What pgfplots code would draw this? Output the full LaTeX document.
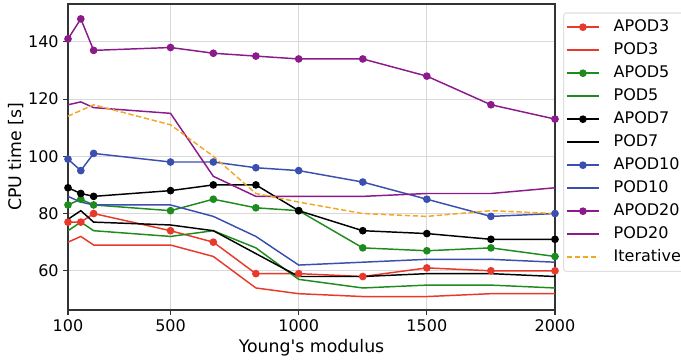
\documentclass[border=0pt]{standalone}
\usepackage{fontspec}
\setmainfont{DejaVu Sans}[Ligatures=TeXOff]
\usepackage{pgfplots}
\pgfplotsset{compat=1.18}

\definecolor{cRed}{HTML}{E8392B}
\definecolor{cGreen}{HTML}{1E8B1E}
\definecolor{cBlue}{HTML}{3A4FB0}
\definecolor{cPurple}{HTML}{8B1A8B}
\definecolor{cOrange}{HTML}{F5A623}

\begin{document}
\begin{tikzpicture}
\begin{axis}[
  scale only axis,
  width=365.25pt, height=229.5pt,
  xmin=100, xmax=2000,
  ymin=46.3, ymax=153.2,
  xtick={100,500,1000,1500,2000},
  ytick={60,80,100,120,140},
  xticklabel style={/pgf/number format/.cd,1000 sep={}},
  /pgf/number format/assume math mode=true,
  tick align=outside, tick pos=left,
  major tick length=3.5pt,
  grid=major,
  grid style={gray!30, line width=0.8pt},
  axis line style={black!80, line width=0.8pt},
  tick style={black!80, line width=0.8pt},
  tick label style={font=\fontsize{12}{14}\selectfont},
  label style={font=\fontsize{13}{15}\selectfont},
  xlabel={Young's modulus},
  ylabel={CPU time [s]},
  xlabel style={at={(axis description cs:0.5,-0.124)}, anchor=center},
  ylabel style={at={(axis description cs:-0.107,0.5)}, anchor=center},
  every axis plot/.append style={line width=1.1pt},
  legend style={
    at={(1,1)}, anchor=north west, xshift=6pt, yshift=-6.375pt,
    draw=gray!25, line width=0.8pt, rounded corners=2pt,
    font=\fontsize{12}{14}\selectfont,
    cells={anchor=west}, row sep=0pt, column sep=6pt,
    nodes={text height=11.5pt, text depth=5.75pt, inner ysep=0pt, inner xsep=4.5pt},
    inner xsep=2pt, inner ysep=2pt,
  },
  legend image code/.code={%
    \draw[line width=1.1pt, mark repeat=2,mark phase=2] plot coordinates {(0pt,0pt) (12pt,0pt) (24pt,0pt)};},
]
% APOD3 / POD3
\addplot[cRed, mark=*, mark size=2.3pt] coordinates {
 (100,77) (150,77) (200,80) (500,74) (667,70) (833,59) (1000,59) (1250,58) (1500,61) (1750,60) (2000,60)};
\addlegendentry{APOD3}
\addplot[cRed, no marks] coordinates {
 (100,70) (150,72) (200,69) (500,69) (667,65) (833,54) (1000,52) (1250,51) (1500,51) (1750,52) (2000,52)};
\addlegendentry{POD3}
% APOD5 / POD5
\addplot[cGreen, mark=*, mark size=2.3pt] coordinates {
 (100,83) (150,85) (200,83) (500,81) (667,85) (833,82) (1000,81) (1250,68) (1500,67) (1750,68) (2000,65)};
\addlegendentry{APOD5}
\addplot[cGreen, no marks] coordinates {
 (100,74) (150,77) (200,74) (500,72) (667,74) (833,68) (1000,57) (1250,54) (1500,55) (1750,55) (2000,54)};
\addlegendentry{POD5}
% APOD7 / POD7
\addplot[black, mark=*, mark size=2.3pt] coordinates {
 (100,89) (150,87) (200,86) (500,88) (667,90) (833,90) (1000,81) (1250,74) (1500,73) (1750,71) (2000,71)};
\addlegendentry{APOD7}
\addplot[black, no marks] coordinates {
 (100,78) (150,81) (200,77) (500,76) (667,74) (833,66) (1000,58) (1250,58) (1500,59) (1750,59) (2000,58)};
\addlegendentry{POD7}
% APOD10 / POD10
\addplot[cBlue, mark=*, mark size=2.3pt] coordinates {
 (100,99) (150,95) (200,101) (500,98) (667,98) (833,96) (1000,95) (1250,91) (1500,85) (1750,79) (2000,80)};
\addlegendentry{APOD10}
\addplot[cBlue, no marks] coordinates {
 (100,86) (150,84) (200,83) (500,83) (667,79) (833,72) (1000,62) (1250,63) (1500,64) (1750,64) (2000,63)};
\addlegendentry{POD10}
% APOD20 / POD20
\addplot[cPurple, mark=*, mark size=2.3pt] coordinates {
 (100,141) (150,148) (200,137) (500,138) (667,136) (833,135) (1000,134) (1250,134) (1500,128) (1750,118) (2000,113)};
\addlegendentry{APOD20}
\addplot[cPurple, no marks] coordinates {
 (100,118) (150,119) (200,117) (500,115) (667,93) (833,86) (1000,86) (1250,86) (1500,87) (1750,87) (2000,89)};
\addlegendentry{POD20}
% Iterative solver
\addplot[cOrange, no marks, dash pattern=on 4pt off 2pt] coordinates {
 (100,114) (150,116) (200,118) (500,111) (667,100) (833,87) (1000,84) (1250,80) (1500,79) (1750,81) (2000,80)};
\addlegendentry{Iterative}
\end{axis}
\pgfresetboundingbox
\path (current axis.south west) ++(-51pt,-38.25pt) rectangle ++(510.75pt,270.75pt);
\end{tikzpicture}
\end{document}
